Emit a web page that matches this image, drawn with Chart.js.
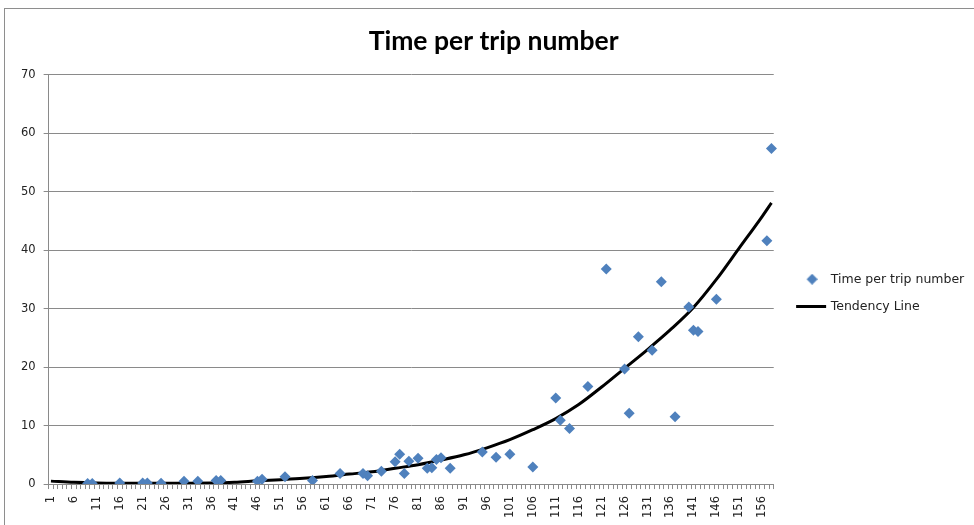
<!DOCTYPE html>
<html>
<head>
<meta charset="utf-8">
<title>Time per trip number</title>
<script src="https://cdn.jsdelivr.net/npm/chart.js@4.4.1/dist/chart.umd.min.js"></script>
<style>
    html, body { margin: 0; padding: 0; background: #fff; }
    #wrap { position: relative; width: 974px; height: 525px; overflow: hidden; }
    #frame { position: absolute; left: 4px; top: 8px; width: 980px; height: 530px; border: 1px solid #8e8e8e; }
    #chart { position: absolute; left: 0; top: 0; }
</style>
</head>
<body>
<div id="wrap">
    <div id="frame"></div>
    <canvas id="chart" width="974" height="525"></canvas>
</div>
<script>
const tripNumbers = [9, 10, 16, 21, 22, 25, 30, 33, 37, 38, 46, 47, 52, 58, 64, 69, 70, 73,
    76, 77, 78, 79, 81, 83, 84, 85, 86, 88, 95, 98, 101, 106, 111, 112, 114, 118, 122,
    126, 127, 129, 132, 134, 137, 140, 141, 142, 146, 157, 158];
const tripTimes = [0.1, 0.1, 0.2, 0.2, 0.2, 0.15, 0.5, 0.5, 0.6, 0.6, 0.5, 0.8, 1.25, 0.6, 1.8, 1.8, 1.4, 2.2,
    3.8, 5.1, 1.8, 3.9, 4.4, 2.7, 2.8, 4.2, 4.5, 2.7, 5.5, 4.6, 5.1, 2.9, 14.7, 10.9, 9.5, 16.7, 36.8,
    19.7, 12.1, 25.2, 22.9, 34.6, 11.5, 30.3, 26.3, 26.1, 31.6, 41.6, 57.4];

// tendency line, read at a few trips
const trendTrips = [1, 6, 11, 21, 31, 41, 46, 51, 56, 61, 66, 71, 76, 81, 86, 91, 96, 101, 106,
    111, 116, 121, 126, 131, 136, 141, 146, 151, 156, 158];
const trendTimes = [0.5, 0.3, 0.2, 0.15, 0.15, 0.3, 0.55, 0.75, 0.98, 1.3, 1.7, 2.1, 2.7, 3.3, 4.1,
    5.0, 6.2, 7.6, 9.3, 11.2, 13.6, 16.6, 19.8, 23.0, 26.4, 30.2, 35.0, 40.4, 45.8, 48.1];

const tripCount = 158;
const yTicks = { min: 0, max: 70, step: 10 };

let categories = [];
for (let i = 1; i <= tripCount; i++) {
    categories.push(String(i));
}

// legend icons, drawn with some empty room on the left so they sit where Excel puts them
function makeIcon(w, h, draw) {
    let c = document.createElement('canvas');
    c.width = w;
    c.height = h;
    draw(c.getContext('2d'), w, h);
    return c;
}

const blue = '#4f81bd';
const diamondIcon = makeIcon(22, 11, function(ctx, w, h) {
    ctx.fillStyle = blue;
    ctx.beginPath();
    ctx.moveTo(16.5, 0);
    ctx.lineTo(22, 5.5);
    ctx.lineTo(16.5, 11);
    ctx.lineTo(11, 5.5);
    ctx.closePath();
    ctx.fill();
});
const lineIcon = makeIcon(41, 3, function(ctx, w, h) {
    ctx.fillStyle = '#000';
    ctx.fillRect(10, 0, 30, h);
});

const gridGray = '#8a8a8a';

new Chart(document.getElementById('chart'), {
    type: 'line',
    data: {
        labels: categories,
        datasets: [{
            label: 'Time per trip number',
            data: tripNumbers.map((n, i) => ({ x: String(n), y: tripTimes[i] })),
            showLine: false,
            pointStyle: 'rectRot',
            pointRadius: 5.5,
            pointHoverRadius: 5.5,
            pointBorderWidth: 0,
            pointBackgroundColor: blue,
            borderColor: blue,
            backgroundColor: blue
        }, {
            label: 'Tendency Line',
            data: trendTrips.map((n, i) => ({ x: String(n), y: trendTimes[i] })),
            borderColor: '#000',
            backgroundColor: '#000',
            borderWidth: 3,
            pointRadius: 0,
            cubicInterpolationMode: 'monotone',
            spanGaps: true
        }]
    },
    options: {
        responsive: false,
        animation: false,
        layout: { padding: { left: 13, right: -0.25, top: 26, bottom: 0 } },
        scales: {
            x: {
                type: 'category',
                offset: true,
                grid: {
                    display: true,
                    drawOnChartArea: false,
                    drawTicks: true,
                    tickLength: 5,
                    color: gridGray,
                    offset: true
                },
                border: { color: gridGray, width: 1 },
                ticks: {
                    autoSkip: false,
                    minRotation: 90,
                    maxRotation: 90,
                    padding: 7,
                    color: '#222',
                    font: { family: 'DejaVu Sans', size: 11.5 },
                    callback: function(value, index) {
                        return index % 5 === 0 ? this.getLabelForValue(value) : '';
                    }
                }
            },
            y: {
                min: yTicks.min,
                max: yTicks.max,
                grid: {
                    color: gridGray,
                    tickLength: 5,
                    drawTicks: true
                },
                border: { color: gridGray, width: 1 },
                ticks: {
                    stepSize: yTicks.step,
                    padding: 8,
                    color: '#222',
                    font: { family: 'DejaVu Sans', size: 11.5 }
                }
            }
        },
        plugins: {
            title: {
                display: true,
                text: 'Time per trip number',
                color: '#000',
                font: { family: 'Lato', size: 26.5, weight: 'bold' },
                padding: { top: 0, bottom: 17 }
            },
            legend: {
                position: 'right',
                align: 'center',
                title: {
                    display: true,
                    text: ' ',
                    font: { size: 10 },
                    padding: { top: 11.5, bottom: 11.5 }
                },
                labels: {
                    usePointStyle: true,
                    pointStyleWidth: 35.75,
                    padding: 15,
                    color: '#222',
                    font: { family: 'DejaVu Sans', size: 12.5 },
                    generateLabels: function(chart) {
                        let items = Chart.defaults.plugins.legend.labels.generateLabels(chart);
                        items[0].pointStyle = diamondIcon;
                        items[1].pointStyle = lineIcon;
                        return items;
                    }
                }
            },
            tooltip: { enabled: false }
        }
    }
});
</script>
</body>
</html>
